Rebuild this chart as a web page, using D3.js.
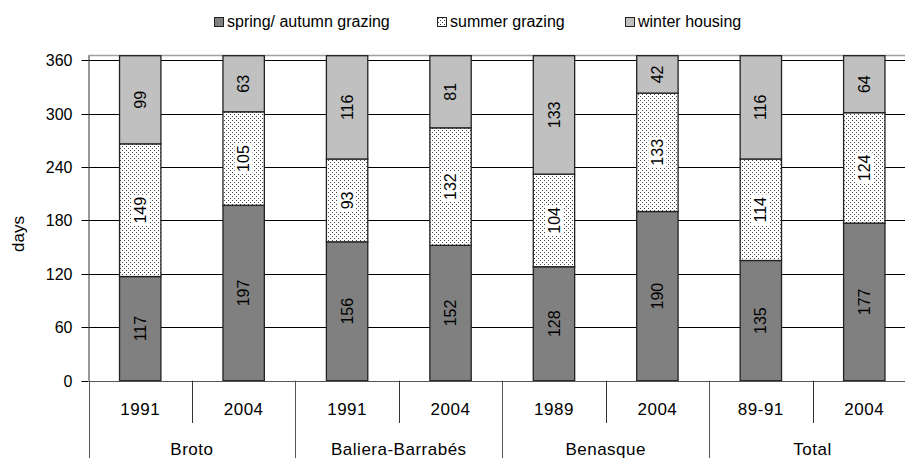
<!DOCTYPE html>
<html>
<head>
<meta charset="utf-8">
<script src="https://cdn.jsdelivr.net/npm/d3@7"></script>
<style>
html,body{margin:0;padding:0;background:#fff;overflow:hidden;}
svg{display:block;font-family:"Liberation Sans",Arial,sans-serif;}
</style>
</head>
<body>
<svg id="chart" width="905" height="458"></svg>
<script>
const groups = ["Broto", "Baliera-Barrabés", "Benasque", "Total"];
const years = ["1991", "2004", "1991", "2004", "1989", "2004", "89-91", "2004"];
const groupOf = [0, 0, 1, 1, 2, 2, 3, 3];
const springAutumn = [117, 197, 156, 152, 128, 190, 135, 177];
const summer = [149, 105, 93, 132, 104, 133, 114, 124];
const winter = [99, 63, 116, 81, 133, 42, 116, 64];
const seriesNames = ["spring/ autumn grazing", "summer grazing", "winter housing"];
const yTicks = [0, 60, 120, 180, 240, 300, 360];
const yLabel = "days";

const svg = d3.select("#chart");
const defs = svg.append("defs");
const pat = defs.append("pattern").attr("id", "dots").attr("patternUnits", "userSpaceOnUse")
  .attr("width", 4).attr("height", 4);
pat.append("rect").attr("width", 4).attr("height", 4).attr("fill", "#fff");
pat.append("rect").attr("x", 0).attr("y", 0).attr("width", 1).attr("height", 1).attr("fill", "#444");
pat.append("rect").attr("x", 2).attr("y", 2).attr("width", 1).attr("height", 1).attr("fill", "#444");

const fills = ["#808080", "url(#dots)", "#c0c0c0"];

const pL = 88.5, pR = 916, pT = 55.7, pB = 380.7;
const idx = d3.range(years.length);
const x = d3.scaleBand().domain(idx).range([pL, pR]).paddingInner(0.6).paddingOuter(0.3);
const xCat = d3.scaleBand().domain(idx).range([pL, pR]);
const y = d3.scaleLinear().domain([0, 365]).range([pB, pT]);

// gridlines
const g = svg.append("g");
g.selectAll("line.grid").data(yTicks.filter(t => t > 0)).join("line")
  .attr("x1", pL).attr("x2", pR)
  .attr("y1", d => Math.round(y(d)) + 0.5).attr("y2", d => Math.round(y(d)) + 0.5)
  .attr("stroke", "#000").attr("stroke-width", 1);
// top border
g.append("line").attr("x1", pL).attr("x2", pR).attr("y1", Math.round(pT) - 0.5).attr("y2", Math.round(pT) - 0.5)
  .attr("stroke", "#a0a0a0").attr("stroke-width", 1.5);

// stack
const data = idx.map(i => ({i, s0: springAutumn[i], s1: summer[i], s2: winter[i]}));
const stack = d3.stack().keys(["s0", "s1", "s2"])(data);

stack.forEach((layer, li) => {
  svg.append("g").selectAll("rect").data(layer).join("rect")
    .attr("x", d => x(d.data.i))
    .attr("width", x.bandwidth())
    .attr("y", d => y(d[1]))
    .attr("height", d => y(d[0]) - y(d[1]))
    .attr("fill", fills[li])
    .attr("stroke", "#222").attr("stroke-width", 1.3);
});

// value labels
stack.forEach((layer, li) => {
  const lg = svg.append("g");
  layer.forEach(d => {
    const cx = x(d.data.i) + x.bandwidth() / 2;
    const cy = (y(d[0]) + y(d[1])) / 2;
    const v = d[1] - d[0];
    const t = lg.append("g").attr("transform", `translate(${cx},${cy}) rotate(-90)`);
    if (li === 1) {
      const w = String(v).length * 8.9 + 4;
      t.append("rect").attr("x", -w / 2).attr("y", -9).attr("width", w).attr("height", 18).attr("fill", "#fff");
    }
    t.append("text").attr("text-anchor", "middle").attr("dy", "0.35em")
      .attr("font-size", 16).attr("fill", "#000").text(v);
  });
});

// y axis
const yAxis = svg.append("g").attr("transform", `translate(${pL},0)`)
  .call(d3.axisLeft(y).tickValues(yTicks).tickSize(7).tickPadding(9));
yAxis.select(".domain").attr("d", `M0.5,${pT}V${pB}`).attr("stroke", "#333");
yAxis.selectAll(".tick line").attr("stroke", "#000").attr("x1", -7).attr("x2", 0);
yAxis.selectAll("text").attr("font-size", 16).attr("fill", "#000").style("font-family", "Liberation Sans, Arial, sans-serif");
yAxis.selectAll(".tick").attr("transform", d => `translate(0,${Math.round(y(d)) + 0.5})`);

svg.append("text").attr("transform", `translate(18.5,234) rotate(-90)`)
  .attr("text-anchor", "middle").attr("dy", "0.35em").attr("font-size", 17).text(yLabel);

// x axis baseline
svg.append("line").attr("x1", pL).attr("x2", pR).attr("y1", Math.round(pB) + 0.5).attr("y2", Math.round(pB) + 0.5)
  .attr("stroke", "#555");

// category separators
const xg = svg.append("g");
idx.concat([years.length]).forEach(i => {
  const xx = Math.round(i < years.length ? xCat(i) : pR) + 0.5;
  const groupEdge = (i === 0 || i === years.length || groupOf[i] !== groupOf[i - 1]);
  xg.append("line").attr("x1", xx).attr("x2", xx).attr("y1", pB)
    .attr("y2", groupEdge ? 458 : 423)
    .attr("stroke", groupEdge ? "#555" : "#333");
});
xg.selectAll("text.year").data(idx).join("text")
  .attr("x", i => xCat(i) + xCat.bandwidth() / 2).attr("y", 409).attr("dy", "0.35em")
  .attr("text-anchor", "middle").attr("font-size", 17).attr("letter-spacing", 0.5).text(i => years[i]);
groups.forEach((gname, gi) => {
  const members = idx.filter(i => groupOf[i] === gi);
  const x0 = xCat(members[0]), x1 = xCat(members[members.length - 1]) + xCat.bandwidth();
  xg.append("text").attr("x", (x0 + x1) / 2).attr("y", 449).attr("dy", "0.35em")
    .attr("text-anchor", "middle").attr("font-size", 17).attr("letter-spacing", 0.5).text(gname);
});

// legend
const legendX = [214, 437, 625];
const leg = svg.append("g");
seriesNames.forEach((n, i) => {
  leg.append("rect").attr("x", legendX[i] + 0.5).attr("y", 17.5).attr("width", 9).attr("height", 9)
    .attr("fill", fills[i]).attr("stroke", "#222").attr("stroke-width", 1);
  leg.append("text").attr("x", legendX[i] + 13).attr("y", 27)
    .attr("font-size", 16).text(n);
});
</script>
</body>
</html>
